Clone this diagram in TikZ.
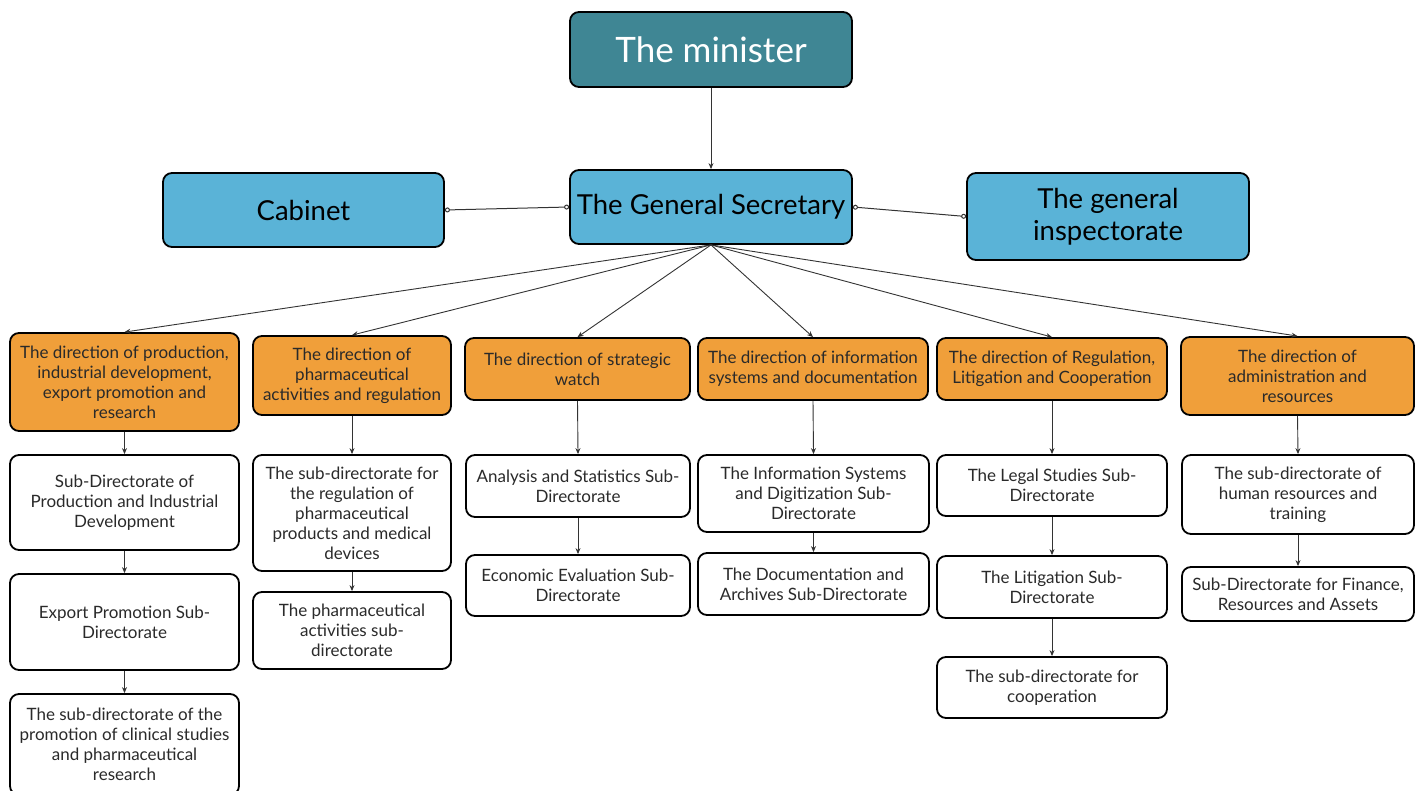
\documentclass[tikz,border=0pt]{standalone}
\usepackage{fontspec}
\setmainfont{Lato}
\usetikzlibrary{arrows.meta}
\definecolor{teal1}{HTML}{3F8694}
\definecolor{blue1}{HTML}{5AB3D7}
\definecolor{orange1}{HTML}{F09F3A}
\definecolor{txt}{HTML}{2A2A2A}
\definecolor{linec}{HTML}{333333}
\tikzset{
  box/.style={draw=black, line width=1.8pt, rounded corners=9pt, align=center, inner sep=2pt},
  top/.style={box, fill=teal1, text=white, font=\fontsize{35}{40}\selectfont},
  mid/.style={box, fill=blue1, text=black, font=\fontsize{27.5}{32}\selectfont},
  dir/.style={box, fill=orange1, text=txt, font=\fontsize{17}{20}\selectfont},
  sub/.style={box, fill=white, text=txt, font=\fontsize{17}{20}\selectfont},
  arr/.style={draw=linec, line width=0.9pt, -{Stealth[length=6pt,width=5pt]}},
  lnk/.style={draw=linec, line width=1pt, {Circle[open,length=5pt,width=5pt,fill=white]}-{Circle[open,length=5pt,width=5pt,fill=white]}}
}
\begin{document}
\begin{tikzpicture}[x=1pt,y=-1pt]
\useasboundingbox (0,0) rectangle (1423,791);
\node[top, minimum width=282, minimum height=75] (min) at (711,49.5) {The minister};
\node[mid, minimum width=282, minimum height=74] (gs) at (711,207) {The General Secretary};
\node[mid, minimum width=281, minimum height=74] (cab) at (303.5,210) {Cabinet};
\node[mid, minimum width=282, minimum height=87] (insp) at (1108,216.5) {The general\\inspectorate};

\node[dir, minimum width=229, minimum height=98] (o1) at (124.5,382) {The direction of production,\\industrial development,\\export promotion and\\research};
\node[dir, minimum width=198, minimum height=79] (o2) at (352,375.5) {The direction of\\pharmaceutical\\activities and regulation};
\node[dir, minimum width=225, minimum height=62] (o3) at (577.5,369) {The direction of strategic\\watch};
\node[dir, minimum width=230, minimum height=62] (o4) at (813,369) {The direction of information\\systems and documentation};
\node[dir, minimum width=230, minimum height=62] (o5) at (1052,369) {The direction of Regulation,\\Litigation and Cooperation};
\node[dir, minimum width=233, minimum height=78] (o6) at (1297.5,376) {The direction of\\administration and\\resources};

\node[sub, minimum width=229, minimum height=95] (c1a) at (124.5,502.5) {Sub-Directorate of\\Production and Industrial\\Development};
\node[sub, minimum width=229, minimum height=96] (c1b) at (124.5,622) {Export Promotion Sub-\\Directorate};
\node[sub, minimum width=229, minimum height=101] (c1c) at (124.5,744.5) {The sub-directorate of the\\promotion of clinical studies\\and pharmaceutical\\research};
\node[sub, minimum width=198, minimum height=116] (c2a) at (352,513) {The sub-directorate for\\the regulation of\\pharmaceutical\\products and medical\\devices};
\node[sub, minimum width=198, minimum height=77] (c2b) at (352,630.5) {The pharmaceutical\\activities sub-\\directorate};
\node[sub, minimum width=224, minimum height=62] (c3a) at (578,486) {Analysis and Statistics Sub-\\Directorate};
\node[sub, minimum width=224, minimum height=61] (c3b) at (578,585.5) {Economic Evaluation Sub-\\Directorate};
\node[sub, minimum width=231, minimum height=77] (c4a) at (813.5,493.5) {The Information Systems\\and Digitization Sub-\\Directorate};
\node[sub, minimum width=231, minimum height=62] (c4b) at (813.5,584) {The Documentation and\\Archives Sub-Directorate};
\node[sub, minimum width=230, minimum height=61] (c5a) at (1052,485.5) {The Legal Studies Sub-\\Directorate};
\node[sub, minimum width=230, minimum height=62] (c5b) at (1052,587) {The Litigation Sub-\\Directorate};
\node[sub, minimum width=230, minimum height=61] (c5c) at (1052,687.5) {The sub-directorate for\\cooperation};
\node[sub, minimum width=232, minimum height=79] (c6a) at (1298,494.5) {The sub-directorate of\\human resources and\\training};
\node[sub, minimum width=232, minimum height=54] (c6b) at (1298,594) {Sub-Directorate for Finance,\\Resources and Assets};

\draw[arr] (min.south) -- (gs.north);
\draw[lnk] (gs.west) -- (cab.east);
\draw[lnk] (gs.east) -- (insp.west);
\foreach \o in {o1,o2,o3,o4,o5,o6} \draw[arr] (gs.south) -- (\o.north);
\foreach \a/\b in {o1/c1a,c1a/c1b,c1b/c1c,o2/c2a,c2a/c2b,o3/c3a,c3a/c3b,o4/c4a,c4a/c4b,o5/c5a,c5a/c5b,c5b/c5c,o6/c6a,c6a/c6b}
  \draw[arr] (\a.south) -- (\b.north);
\end{tikzpicture}
\end{document}
